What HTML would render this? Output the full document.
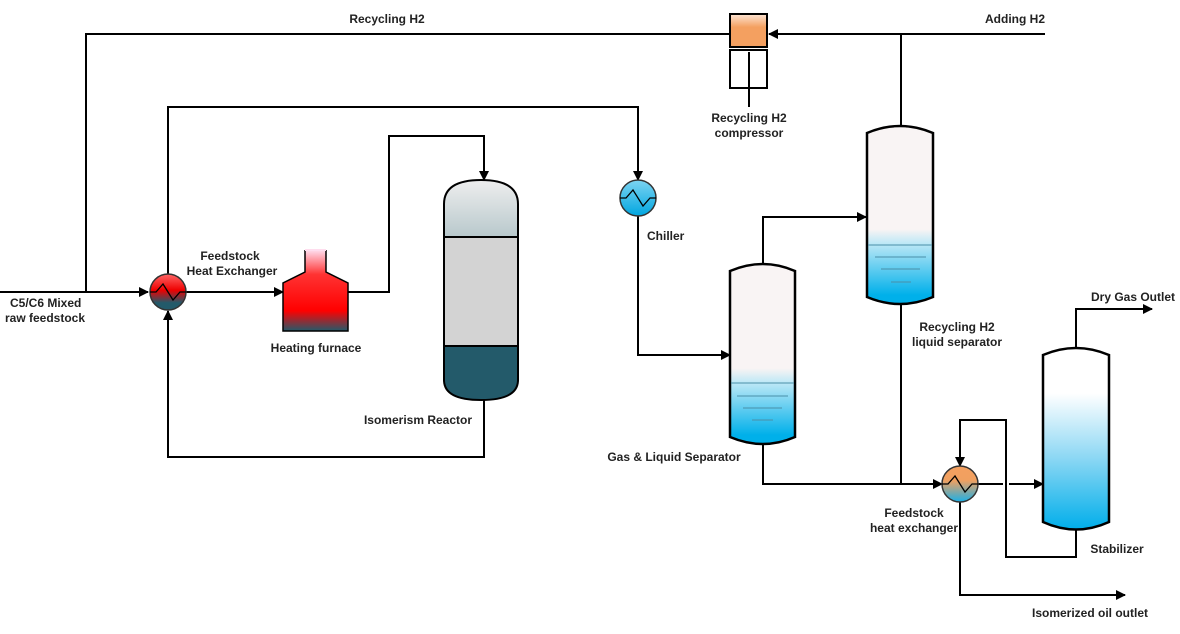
<!DOCTYPE html>
<html><head><meta charset="utf-8"><style>body{margin:0;background:#fff}svg{display:block}text{font-family:"Liberation Sans",Arial,sans-serif;font-weight:bold;font-size:12px;fill:#222}</style></head><body>
<svg width="1180" height="634" viewBox="0 0 1180 634">
<defs>
<marker id="a" markerWidth="10" markerHeight="10" refX="9" refY="5" orient="auto" markerUnits="userSpaceOnUse"><path d="M0,0 L10,5 L0,10 z" fill="#000"/></marker>
<linearGradient id="hx1" x1="0" y1="0" x2="0" y2="1"><stop offset="0" stop-color="#f66"/><stop offset="0.45" stop-color="#e00"/><stop offset="0.8" stop-color="#235a6a"/></linearGradient>
<linearGradient id="fur" x1="0" y1="0" x2="0" y2="1"><stop offset="0" stop-color="#fde"/><stop offset="0.3" stop-color="#f33"/><stop offset="0.75" stop-color="#f00"/><stop offset="1" stop-color="#235a6a"/></linearGradient>
<linearGradient id="rt" x1="0" y1="0" x2="0" y2="1"><stop offset="0" stop-color="#eee"/><stop offset="1" stop-color="#b8c8cc"/></linearGradient>
<linearGradient id="ch" x1="0" y1="0" x2="0" y2="1"><stop offset="0" stop-color="#7dd4f2"/><stop offset="1" stop-color="#00a6e0"/></linearGradient>
<linearGradient id="hx2" x1="0" y1="0" x2="0" y2="1"><stop offset="0" stop-color="#f4a060"/><stop offset="0.4" stop-color="#f0a060"/><stop offset="1" stop-color="#1ab0e8"/></linearGradient>
<linearGradient id="cmp" x1="0" y1="0" x2="0" y2="1"><stop offset="0" stop-color="#fde6d6"/><stop offset="0.4" stop-color="#f4a060"/><stop offset="1" stop-color="#f4a060"/></linearGradient>
<linearGradient id="gls" x1="0" y1="0" x2="0" y2="1"><stop offset="0" stop-color="#f9f4f4"/><stop offset="0.58" stop-color="#f9f4f4"/><stop offset="0.66" stop-color="#bde8f6"/><stop offset="0.95" stop-color="#00b0ea"/></linearGradient>
<linearGradient id="rs" x1="0" y1="0" x2="0" y2="1"><stop offset="0" stop-color="#f9f4f4"/><stop offset="0.58" stop-color="#f9f4f4"/><stop offset="0.66" stop-color="#bde8f6"/><stop offset="0.95" stop-color="#00b0ea"/></linearGradient>
<linearGradient id="st" x1="0" y1="0" x2="0" y2="1"><stop offset="0" stop-color="#fff"/><stop offset="0.25" stop-color="#fff"/><stop offset="0.6" stop-color="#8ed8f4"/><stop offset="1" stop-color="#00aeea"/></linearGradient>
</defs>
<g fill="none" stroke="#000" stroke-width="2">
<!-- top line -->
<path d="M1045,34 H769" marker-end="url(#a)"/>
<path d="M730,34 H86 V292"/>
<path d="M901,34 V125"/>
<path d="M0,292 H148" marker-end="url(#a)"/>
<path d="M186,292 H283" marker-end="url(#a)"/>
<path d="M168,274 V107 H638 V180" marker-end="url(#a)"/>
<path d="M348,292 H389 V136 H484 V180" marker-end="url(#a)"/>
<path d="M484,398 V457 H168 V311" marker-end="url(#a)"/>
<path d="M638,216 V355 H730" marker-end="url(#a)"/>
<path d="M763,263 V217 H866" marker-end="url(#a)"/>
<path d="M901,305 V484"/>
<path d="M763,445 V484 H942" marker-end="url(#a)"/>
<path d="M978,484 H1003 M1009,484 H1043" marker-end="url(#a)"/>
<path d="M1076,348 V309 H1152" marker-end="url(#a)"/>
<path d="M1076,530 V557 H1006 V420 H960 V466" marker-end="url(#a)"/>
<path d="M960,502 V595 H1125" marker-end="url(#a)"/>
<path d="M749,52 V107"/>
</g>
<!-- compressor -->
<rect x="730" y="14" width="37" height="33" fill="url(#cmp)" stroke="#000" stroke-width="2"/>
<rect x="730" y="50" width="37" height="38" fill="none" stroke="#000" stroke-width="2"/>
<!-- HX1 -->
<circle cx="168" cy="292" r="18" fill="url(#hx1)" stroke="#333" stroke-width="1.5"/>
<path d="M150,292 H156 L163,284 L173,300 L180,292 H186" fill="none" stroke="#000" stroke-width="1.3"/>
<!-- furnace -->
<path d="M305,250 V272 L283,283 V331 H348 V283 L326,272 V250" fill="url(#fur)" stroke="#000" stroke-width="1.5" stroke-linejoin="miter"/>
<path d="M305,250 H326" stroke="#fde" stroke-width="2"/>
<!-- reactor -->
<path d="M444,237 V204 Q444,180 481,180 Q518,180 518,204 V237 Z" fill="url(#rt)" stroke="#000" stroke-width="2"/>
<rect x="444" y="237" width="74" height="109" fill="#d3d3d3" stroke="#000" stroke-width="2"/>
<path d="M444,346 H518 V380 Q518,400 481,400 Q444,400 444,380 Z" fill="#235a6a" stroke="#000" stroke-width="2"/>
<!-- chiller -->
<circle cx="638" cy="198" r="18" fill="url(#ch)" stroke="#333" stroke-width="1.5"/>
<path d="M620,198 H626 L633,190 L643,206 L650,198 H656" fill="none" stroke="#000" stroke-width="1.3"/>
<!-- GLS -->
<path d="M730,271 Q763,257 795,271 V437 Q763,451 730,437 Z" fill="url(#gls)" stroke="#000" stroke-width="2.5"/>
<path d="M731,383 H794 M737,396 H788 M743,408 H782 M752,420 H773" stroke="#4a8fa8" stroke-width="1"/>
<!-- recycling separator -->
<path d="M867,133 Q900,119 933,133 V297 Q900,311 867,297 Z" fill="url(#rs)" stroke="#000" stroke-width="2.5"/>
<path d="M868,245 H932 M875,257 H926 M881,269 H920 M891,282 H911" stroke="#4a8fa8" stroke-width="1"/>
<!-- stabilizer -->
<path d="M1043,355 Q1076,341 1109,355 V522 Q1076,537 1043,522 Z" fill="url(#st)" stroke="#000" stroke-width="2.5"/>
<!-- HX2 -->
<circle cx="960" cy="484" r="18" fill="url(#hx2)" stroke="#333" stroke-width="1.5"/>
<path d="M942,484 H948 L955,476 L965,492 L972,484 H978" fill="none" stroke="#000" stroke-width="1.3"/>
<!-- labels -->
<text x="387" y="23" text-anchor="middle">Recycling H2</text>
<text x="1015" y="23" text-anchor="middle">Adding H2</text>
<text x="749" y="122" text-anchor="middle">Recycling H2</text>
<text x="749" y="137" text-anchor="middle">compressor</text>
<text x="10" y="307">C5/C6 Mixed</text>
<text x="5" y="322">raw feedstock</text>
<text x="230" y="260" text-anchor="middle">Feedstock</text>
<text x="232" y="275" text-anchor="middle">Heat Exchanger</text>
<text x="316" y="352" text-anchor="middle">Heating furnace</text>
<text x="418" y="424" text-anchor="middle">Isomerism Reactor</text>
<text x="647" y="240">Chiller</text>
<text x="674" y="461" text-anchor="middle">Gas &amp; Liquid Separator</text>
<text x="957" y="331" text-anchor="middle">Recycling H2</text>
<text x="957" y="346" text-anchor="middle">liquid separator</text>
<text x="1133" y="301" text-anchor="middle">Dry Gas Outlet</text>
<text x="914" y="517" text-anchor="middle">Feedstock</text>
<text x="914" y="532" text-anchor="middle">heat exchanger</text>
<text x="1117" y="553" text-anchor="middle">Stabilizer</text>
<text x="1090" y="617" text-anchor="middle">Isomerized oil outlet</text>
</svg>
</body></html>
